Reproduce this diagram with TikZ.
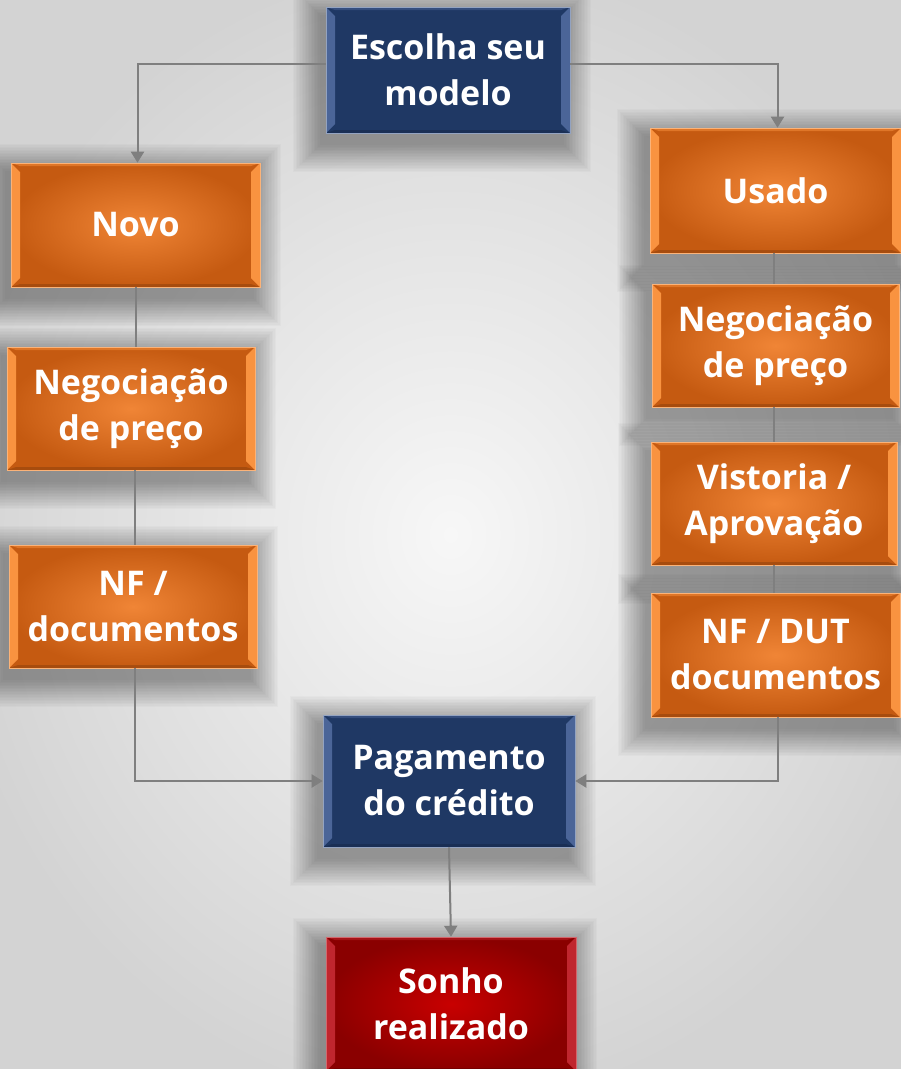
\documentclass[tikz,border=0pt]{standalone}
\usepackage{fontspec}
\setmainfont{Open Sans}
\usetikzlibrary{arrows.meta,calc}
\definecolor{navy}{HTML}{1F3864}
\definecolor{navybev}{HTML}{4B6598}
\definecolor{orin}{HTML}{F08536}
\definecolor{orout}{HTML}{C55A11}
\definecolor{orbev}{HTML}{F99340}
\definecolor{redin}{HTML}{C80000}
\definecolor{redout}{HTML}{8A0000}
\definecolor{redbev}{HTML}{C0262E}
\definecolor{conncol}{HTML}{7F7F7F}
\definecolor{bgout}{HTML}{D3D3D3}
\definecolor{bgin}{HTML}{F7F7F7}
\pgfdeclarelayer{bglayer}
\pgfdeclarelayer{shadlayer}
\pgfsetlayers{bglayer,shadlayer,main}
\newcommand{\bevelsides}[1]{%
  \fill[#1] (path picture bounding box.north west) -- ++(9pt,-9pt)
     -- ($(path picture bounding box.south west)+(9pt,9pt)$)
     -- (path picture bounding box.south west) -- cycle;
  \fill[#1] (path picture bounding box.north east) -- ++(-9pt,-9pt)
     -- ($(path picture bounding box.south east)+(-9pt,9pt)$)
     -- (path picture bounding box.south east) -- cycle;
  \fill[#1,opacity=0.5] (path picture bounding box.north west) -- (path picture bounding box.north east)
     -- ++(-9pt,-3pt) -- ($(path picture bounding box.north west)+(9pt,-3pt)$) -- cycle;
  \fill[black,opacity=0.15] (path picture bounding box.south west) -- (path picture bounding box.south east)
     -- ++(-9pt,3pt) -- ($(path picture bounding box.south west)+(9pt,3pt)$) -- cycle;
}
\newcommand{\softshadow}[1]{%
  \begin{pgfonlayer}{shadlayer}
  \foreach \i in {0,1.5,...,27} {
    \fill[black, opacity=0.019]
      ($(#1.north west)+(-6pt-\i pt,-8pt+\i pt)$) rectangle
      ($(#1.south east)+(-6pt+\i pt,-12pt-\i pt)$);
  }
  \end{pgfonlayer}%
}
\tikzset{
  basebox/.style={rectangle, inner sep=0pt, align=center, text=white,
    font=\bfseries\fontsize{34}{46}\selectfont},
  obox/.style={basebox, inner color=orin, outer color=orout, draw=orbev!70!white, line width=0.6pt,
    path picture={\bevelsides{orbev}}},
  nbox/.style={basebox, fill=navy, draw=navybev!60!white, line width=0.6pt,
    path picture={\bevelsides{navybev}}},
  rbox/.style={basebox, inner color=redin, outer color=redout, draw=redbev!70!white, line width=0.6pt,
    path picture={\bevelsides{redbev}}},
  conn/.style={draw=conncol, line width=2pt},
  arr/.style={conn, -{Triangle[width=13pt,length=11pt]}}
}
\begin{document}
\begin{tikzpicture}[x=1pt,y=-1pt]
\useasboundingbox (0,0) rectangle (901,1069);
\clip (0,0) rectangle (901,1069);
\begin{pgfonlayer}{bglayer}
\shade[inner color=bgin, outer color=bgout] (-60,-40) rectangle (961,1109);
\end{pgfonlayer}
% nodes
\node[nbox, minimum width=244pt, minimum height=126pt] (esc) at (448,70) {Escolha seu\\modelo};
\node[obox, minimum width=249pt, minimum height=124pt] (novo) at (135.5,225) {Novo};
\node[obox, minimum width=248pt, minimum height=123pt] (negL) at (131,408.5) {Negociação\\de preço};
\node[obox, minimum width=248pt, minimum height=123pt] (nfL) at (133,606.5) {NF /\\documentos};
\node[obox, minimum width=251pt, minimum height=125pt] (usado) at (775.5,190.5) {Usado};
\node[obox, minimum width=247pt, minimum height=123pt] (negR) at (775.5,345.5) {Negociação\\de preço};
\node[obox, minimum width=246pt, minimum height=123pt] (vist) at (774,503.5) {Vistoria /\\Aprovação};
\node[obox, minimum width=249pt, minimum height=124pt] (nfR) at (775.5,655) {NF / DUT\\documentos};
\node[nbox, minimum width=252pt, minimum height=132pt] (pag) at (449,781) {Pagamento\\do crédito};
\node[rbox, minimum width=250pt, minimum height=134pt] (sonho) at (451,1004) {Sonho\\realizado};
\foreach \n in {esc,novo,negL,nfL,usado,negR,vist,nfR,pag,sonho} {\softshadow{\n}}
% connectors
\draw[arr] ([yshift=6pt]esc.west) -| ([xshift=2pt]novo.north);
\draw[arr] ([yshift=6pt]esc.east) -| ([xshift=2pt]usado.north);
\draw[conn] (novo.south) -- (novo.south |- negL.north);
\draw[conn] ([xshift=2pt]nfL.north) -- ([xshift=2pt]nfL.north |- negL.south);
\draw[arr] ([xshift=2pt]nfL.south) |- (pag.west);
\draw[conn] ([xshift=-2pt]usado.south) -- ([xshift=-2pt]usado.south |- negR.north);
\draw[conn] ([xshift=-2pt]negR.south) -- ([xshift=-2pt]negR.south |- vist.north);
\draw[conn] (vist.south) -- (vist.south |- nfR.north);
\draw[arr] ([xshift=2pt]nfR.south) |- (pag.east);
\draw[arr] (pag.south) -- (sonho.north);
\end{tikzpicture}
\end{document}
